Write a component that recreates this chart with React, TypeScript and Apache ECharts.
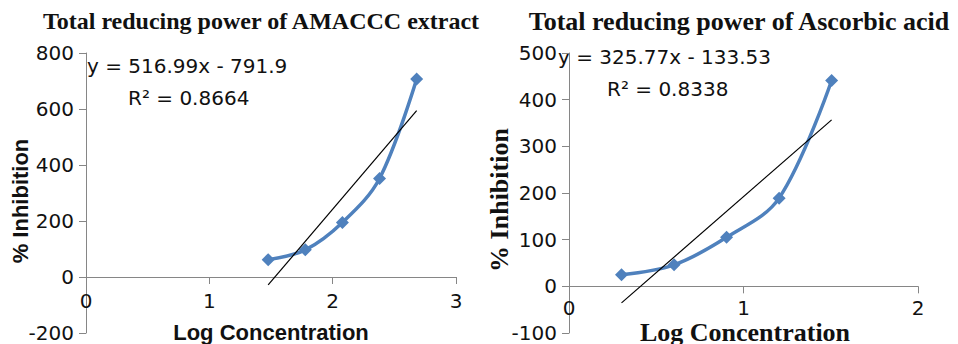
import React, { useEffect, useRef } from "react";
import * as echarts from "echarts";

const leftTitle = "Total reducing power of AMACCC extract";
const rightTitle = "Total reducing power of Ascorbic acid";

const leftX = [1.477, 1.778, 2.079, 2.38, 2.681];
const leftY = [62, 97, 195, 352, 707];
const leftSlope = 516.99;
const leftIntercept = -791.9;
const leftEq = "y = 516.99x - 791.9";
const leftR2 = "R² = 0.8664";

const rightX = [0.301, 0.602, 0.903, 1.204, 1.505];
const rightY = [25, 46, 105, 189, 441];
const rightSlope = 325.77;
const rightIntercept = -133.53;
const rightEq = "y = 325.77x - 133.53";
const rightR2 = "R² = 0.8338";

const xName = "Log Concentration";
const yName = "% Inhibition";

const BLUE = "#4F81BD";
const AXIS = "#868686";
const SANS = "'DejaVu Sans', sans-serif";
const SANSB = "'Liberation Sans', Arial, sans-serif";
const SERIF = "'Liberation Serif', 'Times New Roman', serif";

const TOP = 53;
const H = 280;

export default function App() {
  const ref = useRef<HTMLDivElement>(null);
  useEffect(() => {
    document.body.style.margin = "0";
    if (!ref.current) return;
    const chart = echarts.init(ref.current, null, { renderer: "svg" });

    const trend = (xs: number[], m: number, b: number) => [
      [xs[0], m * xs[0] + b],
      [xs[xs.length - 1], m * xs[xs.length - 1] + b],
    ];

    const axisCommon = {
      axisLine: { show: true, onZero: false, lineStyle: { color: AXIS, width: 1 } },
      axisTick: { show: true, inside: false, length: 7, lineStyle: { color: AXIS } },
      splitLine: { show: false },
      axisLabel: { color: "#111", fontSize: 20, lineHeight: 20, fontFamily: SANS },
    };

    const leftZeroOffset = -H * (200 / 1000);
    const rightZeroOffset = -H * (100 / 600);

    chart.setOption({
      animation: false,
      backgroundColor: "#fff",
      grid: [
        { left: 86, top: TOP, width: 370, height: H, containLabel: false, outerBoundsMode: "none" },
        { left: 569, top: TOP, width: 349, height: H, containLabel: false, outerBoundsMode: "none" },
      ],
      xAxis: [
        { ...axisCommon, type: "value", gridIndex: 0, position: "bottom", offset: leftZeroOffset,
          min: 0, max: 3, interval: 1,
          axisLabel: { ...axisCommon.axisLabel, margin: 14 } },
        { ...axisCommon, type: "value", gridIndex: 1, position: "bottom", offset: rightZeroOffset,
          min: 0, max: 2, interval: 1,
          axisLabel: { ...axisCommon.axisLabel, margin: 12 } },
      ],
      yAxis: [
        { ...axisCommon, type: "value", gridIndex: 0, min: -200, max: 800, interval: 200,
          axisLabel: { ...axisCommon.axisLabel, margin: 12 } },
        { ...axisCommon, type: "value", gridIndex: 1, min: -100, max: 500, interval: 100,
          axisLabel: { ...axisCommon.axisLabel, margin: 12 } },
      ],
      series: [
        { type: "line", xAxisIndex: 0, yAxisIndex: 0, smooth: 0.35,
          data: leftX.map((x, i) => [x, leftY[i]]),
          symbol: "diamond", symbolSize: 13,
          itemStyle: { color: BLUE }, lineStyle: { color: BLUE, width: 3.5 }, z: 3 },
        { type: "line", xAxisIndex: 0, yAxisIndex: 0, data: trend(leftX, leftSlope, leftIntercept),
          symbol: "none", lineStyle: { color: "#000", width: 1.2 }, z: 4 },
        { type: "line", xAxisIndex: 1, yAxisIndex: 1, smooth: 0.35,
          data: rightX.map((x, i) => [x, rightY[i]]),
          symbol: "diamond", symbolSize: 13,
          itemStyle: { color: BLUE }, lineStyle: { color: BLUE, width: 3.5 }, z: 3 },
        { type: "line", xAxisIndex: 1, yAxisIndex: 1, data: trend(rightX, rightSlope, rightIntercept),
          symbol: "none", lineStyle: { color: "#000", width: 1.2 }, z: 4 },
      ],
      graphic: [
        { type: "text", x: 261, y: 21, style: { text: leftTitle, font: `bold 24px ${SERIF}`, fill: "#111", align: "center", verticalAlign: "middle" } },
        { type: "text", x: 739, y: 21, style: { text: rightTitle, font: `bold 26px ${SERIF}`, fill: "#111", align: "center", verticalAlign: "middle" } },
        { type: "text", x: 87, y: 66, style: { text: leftEq, font: `20px ${SANS}`, fill: "#111", align: "left", verticalAlign: "middle" } },
        { type: "text", x: 128, y: 98, style: { text: leftR2, font: `20px ${SANS}`, fill: "#111", align: "left", verticalAlign: "middle" } },
        { type: "text", x: 558, y: 57, style: { text: rightEq, font: `20px ${SANS}`, fill: "#111", align: "left", verticalAlign: "middle" } },
        { type: "text", x: 607, y: 89, style: { text: rightR2, font: `20px ${SANS}`, fill: "#111", align: "left", verticalAlign: "middle" } },
        { type: "text", x: 20, y: 201, rotation: Math.PI / 2, style: { text: yName, font: `bold 22px ${SANSB}`, fill: "#111", align: "center", verticalAlign: "middle" } },
        { type: "text", x: 499, y: 200, rotation: Math.PI / 2, style: { text: yName, font: `bold 26px ${SERIF}`, fill: "#111", align: "center", verticalAlign: "middle" } },
        { type: "text", x: 271, y: 332, style: { text: xName, font: `bold 22px ${SANSB}`, lineHeight: 22, fill: "#111", align: "center", verticalAlign: "middle" } },
        { type: "text", x: 745, y: 332, style: { text: xName, font: `bold 26px ${SERIF}`, lineHeight: 22, fill: "#111", align: "center", verticalAlign: "middle" } },
      ],
    });
    return () => chart.dispose();
  }, []);
  return <div ref={ref} style={{ width: 958, height: 344 }} />;
}
